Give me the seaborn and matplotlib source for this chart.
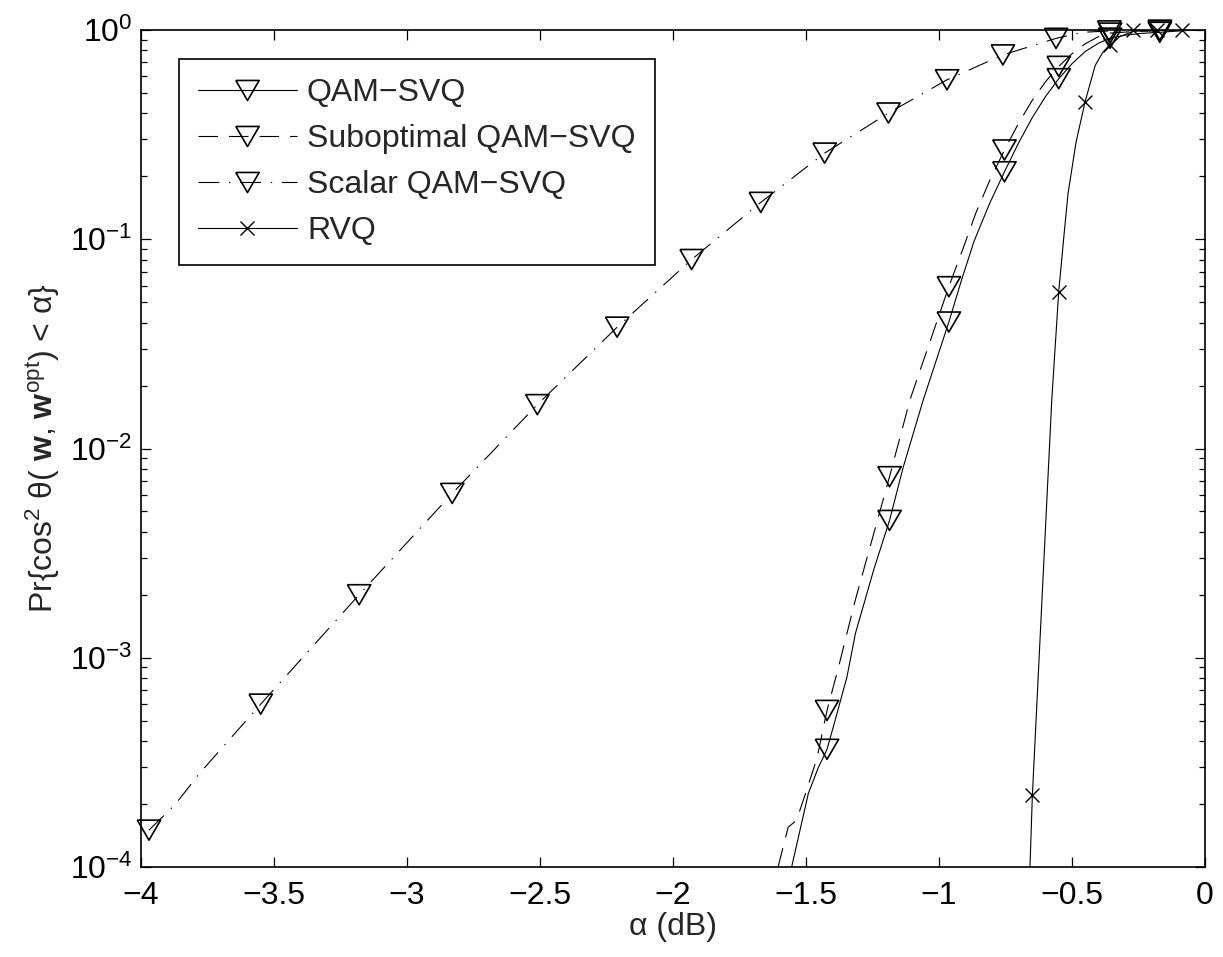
"""Recreate the CDF comparison of QAM-SVQ quantisers (log-scale)."""

import matplotlib

matplotlib.use("Agg")

import matplotlib.pyplot as plt
import seaborn as sns
from matplotlib.lines import Line2D
from matplotlib.ticker import FuncFormatter, LogLocator, NullFormatter

# --- data -------------------------------------------------------------------
# Scalar QAM-SVQ (dash-dot)
scalar_line_x = [-3.97, -3.87, -3.78, -3.55, -3.18, -2.83, -2.51, -2.21, -1.93,
                 -1.67, -1.43, -1.19, -0.97, -0.76, -0.56, -0.46, -0.36, -0.17, 0.0]
scalar_line_y = [1.5e-4, 2.0e-4, 2.8e-4, 6.0e-4, 2.0e-3, 6.1e-3, 1.62e-2, 3.8e-2, 8.0e-2,
                 0.150, 0.258, 0.401, 0.578, 0.76, 0.912, 0.975, 0.99, 0.998, 1.0]
scalar_mark_x = [-3.97, -3.55, -3.18, -2.83, -2.51, -2.21, -1.93, -1.67,
                 -1.43, -1.19, -0.97, -0.76, -0.56, -0.36, -0.17]
scalar_mark_y = [1.5e-4, 6.0e-4, 2.0e-3, 6.1e-3, 1.62e-2, 3.8e-2, 8.0e-2, 0.150,
                 0.258, 0.401, 0.578, 0.76, 0.912, 0.99, 0.998]

# QAM-SVQ (solid)
qam_line_x = [-1.554, -1.491, -1.454, -1.421, -1.391, -1.346, -1.314, -1.244, -1.186,
              -1.135, -1.059, -0.963, -0.915, -0.868, -0.81, -0.754, -0.70, -0.65,
              -0.60, -0.55, -0.50, -0.45, -0.40, -0.357, -0.30, -0.24, -0.17, -0.08, 0.0]
qam_line_y = [1.0e-4, 2.25e-4, 2.98e-4, 3.65e-4, 5.0e-4, 8.1e-4, 1.31e-3, 2.67e-3, 4.53e-3,
              8.1e-3, 1.71e-2, 4.02e-2, 6.4e-2, 9.8e-2, 0.148, 0.21, 0.29, 0.38,
              0.48, 0.585, 0.69, 0.79, 0.865, 0.914, 0.945, 0.963, 0.975, 0.993, 1.0]
qam_mark_x = [-1.421, -1.186, -0.963, -0.754, -0.55, -0.357, -0.17]
qam_mark_y = [3.65e-4, 4.53e-3, 4.02e-2, 0.21, 0.585, 0.914, 0.975]

# Suboptimal QAM-SVQ (dashed)
sub_line_x = [-1.605, -1.567, -1.536, -1.504, -1.459, -1.421, -1.377, -1.314, -1.186,
              -1.109, -0.963, -0.91, -0.86, -0.81, -0.754, -0.70, -0.65, -0.60, -0.55,
              -0.50, -0.45, -0.40, -0.357, -0.26, -0.17, -0.08, 0.0]
sub_line_y = [1.0e-4, 1.55e-4, 1.67e-4, 2.2e-4, 3.3e-4, 5.6e-4, 9.1e-4, 1.9e-3, 7.33e-3,
              1.71e-2, 5.93e-2, 9.0e-2, 0.135, 0.19, 0.267, 0.36, 0.46, 0.565, 0.67,
              0.77, 0.86, 0.93, 0.966, 0.985, 0.99, 0.998, 1.0]
sub_mark_x = [-1.421, -1.186, -0.963, -0.754, -0.55, -0.357, -0.17]
sub_mark_y = [5.6e-4, 7.33e-3, 5.93e-2, 0.267, 0.67, 0.966, 0.99]

# RVQ (solid, x markers)
rvq_line_x = [-0.658, -0.649, -0.576, -0.550, -0.530, -0.515, -0.485, -0.451, -0.413,
              -0.385, -0.359, -0.32, -0.27, -0.18, -0.086, 0.0]
rvq_line_y = [1.0e-4, 2.2e-4, 1.71e-2, 5.6e-2, 0.105, 0.165, 0.29, 0.453, 0.676,
              0.78, 0.848, 0.93, 0.985, 0.998, 1.0, 1.0]
rvq_mark_x = [-0.649, -0.550, -0.451, -0.359, -0.27, -0.18, -0.086]
rvq_mark_y = [2.2e-4, 5.6e-2, 0.453, 0.848, 0.995, 1.0, 1.0]

x_ticks = [-4, -3.5, -3, -2.5, -2, -1.5, -1, -0.5, 0]

# --- style ----------------------------------------------------------------
sns.set_theme(style="ticks")
plt.rcParams["font.family"] = ["Liberation Sans", "DejaVu Sans"]
plt.rcParams["mathtext.fontset"] = "custom"
plt.rcParams["mathtext.rm"] = "Liberation Sans"
plt.rcParams["mathtext.bf"] = "Liberation Sans:bold"
plt.rcParams["mathtext.it"] = "Liberation Sans:italic"
plt.rcParams["mathtext.default"] = "regular"
plt.rcParams["lines.scale_dashes"] = False

FS = 23
LW = 0.8
TRI = [(-1, 0.86), (1, 0.86), (0, -0.86), (-1, 0.86)]
TRI_SIZE = 16.8
DASH = (14, 8)
DASHDOT = (15, 7, 1, 7)

fig = plt.figure(figsize=(12.23, 9.57), dpi=100)
ax = fig.add_axes([141 / 1223, 90 / 957, 1064 / 1223, 837 / 957])
ax.set_yscale("log")


def draw_series(lx, ly, mx, my, dashes, marker, msize):
    sns.lineplot(x=lx, y=ly, ax=ax, color="black", linewidth=LW, sort=False, estimator=None)
    line = ax.lines[-1]
    if dashes is not None:
        line.set_dashes(dashes)
    if marker == "x":
        sns.scatterplot(x=mx, y=my, ax=ax, marker="x", color="black", s=msize ** 2,
                        linewidth=1.0, clip_on=False, zorder=3)
    else:
        sns.scatterplot(x=mx, y=my, ax=ax, marker=marker, facecolors="none",
                        edgecolors="black", s=msize ** 2, linewidth=1.2,
                        clip_on=False, zorder=3)


draw_series(qam_line_x, qam_line_y, qam_mark_x, qam_mark_y, None, TRI, TRI_SIZE)
draw_series(sub_line_x, sub_line_y, sub_mark_x, sub_mark_y, DASH, TRI, TRI_SIZE)
draw_series(scalar_line_x, scalar_line_y, scalar_mark_x, scalar_mark_y, DASHDOT, TRI, TRI_SIZE)
draw_series(rvq_line_x, rvq_line_y, rvq_mark_x, rvq_mark_y, None, "x", 10)

ax.set_xlim(-4, 0)
ax.set_ylim(1e-4, 1)
ax.set_xticks(x_ticks)
ax.xaxis.set_major_formatter(FuncFormatter(lambda v, _: f"{v:g}".replace("-", "\u2212")))
ax.yaxis.set_major_locator(LogLocator(base=10, numticks=10))
ax.yaxis.set_minor_locator(LogLocator(base=10, subs=range(2, 10), numticks=20))
ax.yaxis.set_minor_formatter(NullFormatter())

ax.tick_params(axis="both", which="both", direction="in", top=True, right=True,
               labelsize=FS, colors="black", width=0.9)
ax.tick_params(axis="both", which="major", length=7)
ax.tick_params(axis="y", which="minor", length=4)
ax.tick_params(axis="x", which="major", pad=10)
ax.tick_params(axis="y", which="major", pad=6)
for spine in ax.spines.values():
    spine.set_visible(True)
    spine.set_linewidth(1.2)
    spine.set_color("black")

ax.set_xlabel("\u03b1 (dB)", fontsize=FS, labelpad=1)
ylabel = "Pr{cos$^2$ \u03b8( $\\mathbf{w}$, $\\mathbf{w}^{\\rm opt}$) < \u03b1}"
ax.set_ylabel(ylabel, fontsize=FS, labelpad=6)

handles = [
    Line2D([], [], color="black", lw=LW, marker=TRI, markersize=TRI_SIZE,
           markerfacecolor="none", markeredgewidth=1.2),
    Line2D([], [], color="black", lw=LW, dashes=DASH, marker=TRI, markersize=TRI_SIZE,
           markerfacecolor="none", markeredgewidth=1.2),
    Line2D([], [], color="black", lw=LW, dashes=DASHDOT, marker=TRI, markersize=TRI_SIZE,
           markerfacecolor="none", markeredgewidth=1.2),
    Line2D([], [], color="black", lw=LW, marker="x", markersize=10, markeredgewidth=1.0),
]
labels = ["QAM\u2212SVQ", "Suboptimal QAM\u2212SVQ", "Scalar QAM\u2212SVQ", "RVQ"]
leg = ax.legend(handles, labels, loc="upper left", bbox_to_anchor=(0.0353, 0.9657),
                borderaxespad=0, fontsize=FS, handlelength=3.1, handletextpad=0.32,
                labelspacing=0.5, borderpad=0.6, fancybox=False, framealpha=1,
                edgecolor="black", numpoints=1)
leg.get_frame().set_linewidth(1.2)

fig.savefig("out.png", dpi=100)
